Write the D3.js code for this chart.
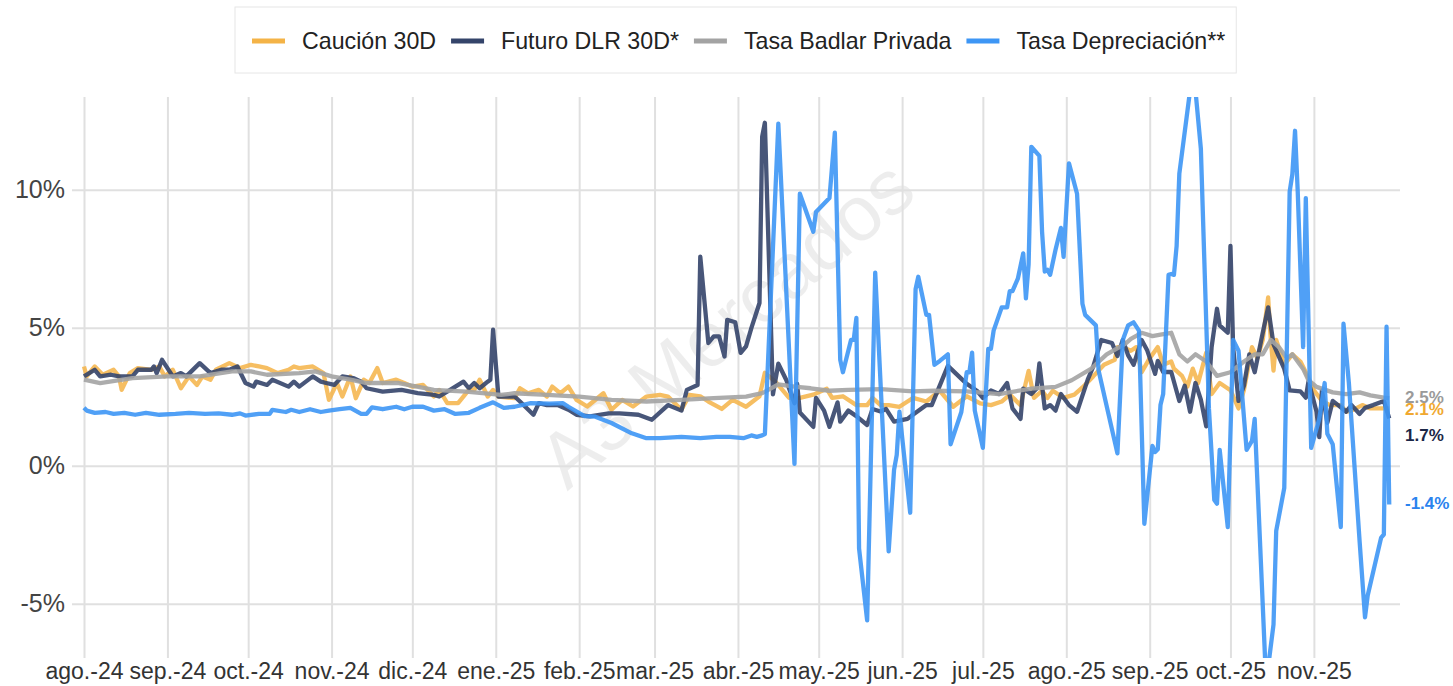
<!DOCTYPE html>
<html>
<head>
<meta charset="utf-8">
<script src="https://cdn.jsdelivr.net/npm/d3@7"></script>
<style>
  body { margin: 0; background: #fff; }
  text { font-family: "Liberation Sans", Arial, sans-serif; }
</style>
</head>
<body>
<script>
var w = 1453;
var h = 686;

// serie names / colors (legend order)
var seriesNames = ['Caución 30D', 'Futuro DLR 30D*', 'Tasa Badlar Privada', 'Tasa Depreciación**'];
var seriesColors = ['#f4b347', '#34446a', '#a3a3a3', '#3d96f5'];
var labelColors = ['#f0a830', '#1b2747', '#9a9a9a', '#2a83ee'];

var monthTicks = ['2024-08-01','2024-09-01','2024-10-01','2024-11-01','2024-12-01','2025-01-01','2025-02-01',
  '2025-03-01','2025-04-01','2025-05-01','2025-06-01','2025-07-01','2025-08-01','2025-09-01','2025-10-01','2025-11-01'];
var monthLabels = ['ago.-24','sep.-24','oct.-24','nov.-24','dic.-24','ene.-25','feb.-25','mar.-25',
  'abr.-25','may.-25','jun.-25','jul.-25','ago.-25','sep.-25','oct.-25','nov.-25'];
var yTicks = [-5, 0, 5, 10];

// Caución 30D
var caucion = [
["2024-08-01",3.6],["2024-08-02",3.24],["2024-08-05",3.6],["2024-08-08",3.3],["2024-08-12",3.48],["2024-08-14",3.24],
["2024-08-15",2.75],["2024-08-18",3.36],["2024-08-21",3.54],["2024-08-26",3.48],["2024-08-29",3.6],["2024-08-31",3.24],
["2024-09-03",3.48],["2024-09-06",2.81],["2024-09-09",3.24],["2024-09-12",2.93],["2024-09-14",3.24],["2024-09-17",3.12],
["2024-09-19",3.48],["2024-09-24",3.72],["2024-09-28",3.54],["2024-10-02",3.66],["2024-10-05",3.6],["2024-10-08",3.54],
["2024-10-12",3.36],["2024-10-16",3.48],["2024-10-18",3.6],["2024-10-20",3.54],["2024-10-25",3.6],["2024-10-29",3.36],
["2024-10-31",2.39],["2024-11-03",3.0],["2024-11-05",2.51],["2024-11-08",3.24],["2024-11-10",2.45],["2024-11-13",3.12],
["2024-11-15",3.0],["2024-11-18",3.54],["2024-11-20",3.0],["2024-11-25",3.12],["2024-11-28",3.0],["2024-12-01",2.87],
["2024-12-05",2.93],["2024-12-09",2.51],["2024-12-11",2.75],["2024-12-14",2.27],["2024-12-18",2.27],["2024-12-22",2.75],
["2024-12-24",2.75],["2024-12-26",3.12],["2024-12-29",2.51],["2024-12-31",2.75],["2025-01-02",2.51],["2025-01-08",2.45],
["2025-01-10",2.81],["2025-01-13",2.63],["2025-01-17",2.75],["2025-01-20",2.51],["2025-01-22",2.87],["2025-01-25",2.63],
["2025-01-28",2.87],["2025-01-31",2.39],["2025-02-04",2.15],["2025-02-10",2.63],["2025-02-13",2.03],["2025-02-17",2.39],
["2025-02-21",2.15],["2025-02-26",2.51],["2025-03-03",2.57],["2025-03-06",2.51],["2025-03-11",2.03],["2025-03-14",2.57],
["2025-03-18",2.52],["2025-03-21",2.33],["2025-03-26",2.06],["2025-03-30",2.39],["2025-04-04",2.14],["2025-04-09",2.52],
["2025-04-11",3.37],["2025-04-15",3.04],["2025-04-20",2.46],["2025-04-24",2.46],["2025-04-29",2.58],["2025-05-04",2.79],
["2025-05-06",2.46],["2025-05-10",2.52],["2025-05-15",2.2],["2025-05-19",2.2],["2025-05-21",2.46],["2025-05-24",2.2],
["2025-05-27",2.2],["2025-05-31",2.14],["2025-06-05",2.46],["2025-06-10",2.33],["2025-06-15",2.72],["2025-06-20",2.14],
["2025-06-25",2.52],["2025-06-30",2.26],["2025-07-04",2.2],["2025-07-08",2.33],["2025-07-11",2.58],["2025-07-15",2.2],
["2025-07-18",3.44],["2025-07-20",2.46],["2025-07-23",2.72],["2025-07-25",2.46],["2025-07-27",2.72],["2025-07-31",2.46],
["2025-08-04",2.58],["2025-08-07",2.84],["2025-08-11",3.24],["2025-08-15",3.66],["2025-08-19",3.84],["2025-08-20",4.3],
["2025-08-22",4.3],["2025-08-25",4.17],["2025-08-27",4.3],["2025-08-29",3.39],["2025-09-01",3.9],["2025-09-04",4.3],
["2025-09-06",3.66],["2025-09-09",3.78],["2025-09-10",3.52],["2025-09-13",3.26],["2025-09-15",2.87],["2025-09-17",3.52],
["2025-09-19",3.0],["2025-09-22",4.1],["2025-09-24",2.6],["2025-09-27",3.0],["2025-10-01",2.74],["2025-10-04",2.08],
["2025-10-06",2.74],["2025-10-09",4.3],["2025-10-11",3.9],["2025-10-13",4.56],["2025-10-15",6.1],["2025-10-16",4.56],
["2025-10-17",3.45],["2025-10-18",4.56],["2025-10-21",3.66],["2025-10-24",4.04],["2025-10-27",3.78],["2025-10-29",3.39],
["2025-11-01",2.74],["2025-11-04",2.35],["2025-11-07",2.2],["2025-11-11",2.2],["2025-11-13",1.96],["2025-11-15",2.0],
["2025-11-19",2.2],["2025-11-22",2.08],["2025-11-27",2.08],["2025-11-29",2.08]
];

// Futuro DLR 30D*
var futuro = [
["2024-08-01",3.24],["2024-08-05",3.48],["2024-08-07",3.24],["2024-08-11",3.3],["2024-08-14",3.24],["2024-08-19",3.24],
["2024-08-21",3.48],["2024-08-26",3.48],["2024-08-27",3.6],["2024-08-28",3.36],["2024-08-30",3.84],["2024-09-03",3.24],
["2024-09-06",3.36],["2024-09-08",3.24],["2024-09-13",3.72],["2024-09-17",3.36],["2024-09-21",3.48],["2024-09-24",3.48],
["2024-09-27",3.6],["2024-09-30",3.0],["2024-10-03",2.87],["2024-10-04",3.05],["2024-10-08",2.93],["2024-10-10",3.12],
["2024-10-16",2.87],["2024-10-18",3.05],["2024-10-20",2.87],["2024-10-25",3.24],["2024-10-28",3.05],["2024-10-30",3.0],
["2024-11-02",2.93],["2024-11-05",3.24],["2024-11-09",3.18],["2024-11-12",3.05],["2024-11-14",2.81],["2024-11-20",2.69],
["2024-11-27",2.75],["2024-12-03",2.63],["2024-12-09",2.57],["2024-12-11",2.51],["2024-12-17",2.87],["2024-12-20",3.05],
["2024-12-22",2.81],["2024-12-24",3.0],["2024-12-26",2.81],["2024-12-29",3.05],["2024-12-30",3.12],["2024-12-31",4.93],
["2025-01-02",2.51],["2025-01-08",2.51],["2025-01-10",2.33],["2025-01-15",1.85],["2025-01-17",2.27],["2025-01-20",2.2],
["2025-01-24",2.2],["2025-01-28",2.03],["2025-01-31",1.85],["2025-02-05",1.79],["2025-02-12",1.9],["2025-02-16",1.9],
["2025-02-23",1.85],["2025-02-28",1.67],["2025-03-06",2.2],["2025-03-11",2.0],["2025-03-13",2.75],["2025-03-17",2.93],
["2025-03-18",7.58],["2025-03-21",4.45],["2025-03-23",4.69],["2025-03-25",4.69],["2025-03-27",3.96],["2025-03-28",5.29],
["2025-03-31",5.2],["2025-04-02",4.09],["2025-04-04",4.33],["2025-04-06",5.0],["2025-04-09",5.9],["2025-04-10",11.93],
["2025-04-11",12.43],["2025-04-14",2.59],["2025-04-16",3.7],["2025-04-19",3.1],["2025-04-20",2.8],["2025-04-22",2.27],
["2025-04-23",2.97],["2025-04-24",1.93],["2025-04-29",1.41],["2025-04-30",2.46],["2025-05-03",2.0],["2025-05-05",1.41],
["2025-05-08",2.3],["2025-05-09",1.6],["2025-05-12",2.0],["2025-05-15",1.8],["2025-05-19",1.48],["2025-05-21",2.06],
["2025-05-24",1.97],["2025-05-26",2.06],["2025-05-29",1.6],["2025-06-03",1.7],["2025-06-05",1.85],["2025-06-10",2.2],
["2025-06-12",2.2],["2025-06-18",3.62],["2025-06-25",2.97],["2025-06-29",2.7],["2025-07-01",2.46],["2025-07-04",2.73],
["2025-07-07",2.6],["2025-07-10",3.0],["2025-07-12",2.08],["2025-07-15",1.7],["2025-07-16",2.8],["2025-07-19",2.6],
["2025-07-21",2.8],["2025-07-22",3.71],["2025-07-24",2.08],["2025-07-26",2.2],["2025-07-28",2.0],["2025-07-30",2.6],
["2025-08-02",2.2],["2025-08-05",1.96],["2025-08-09",3.13],["2025-08-11",3.59],["2025-08-14",4.56],["2025-08-18",4.45],
["2025-08-20",3.98],["2025-08-22",4.56],["2025-08-24",4.0],["2025-08-26",3.66],["2025-08-29",4.56],["2025-08-31",4.2],
["2025-09-03",3.33],["2025-09-04",3.8],["2025-09-06",3.4],["2025-09-09",3.4],["2025-09-12",2.35],["2025-09-14",2.9],
["2025-09-16",1.96],["2025-09-18",3.0],["2025-09-20",2.4],["2025-09-22",1.43],["2025-09-24",4.3],["2025-09-26",5.69],
["2025-09-27",5.09],["2025-09-30",4.82],["2025-10-01",7.97],["2025-10-02",4.3],["2025-10-04",2.35],["2025-10-06",2.9],
["2025-10-08",4.04],["2025-10-10",3.39],["2025-10-13",4.82],["2025-10-15",5.74],["2025-10-17",4.4],["2025-10-21",3.51],
["2025-10-23",2.73],["2025-10-27",2.7],["2025-10-29",2.47],["2025-10-30",3.06],["2025-11-02",1.96],["2025-11-03",1.04],
["2025-11-04",2.73],["2025-11-06",1.56],["2025-11-08",2.35],["2025-11-10",2.2],["2025-11-13",1.96],["2025-11-15",2.2],
["2025-11-18",1.88],["2025-11-20",2.1],["2025-11-23",2.2],["2025-11-27",2.35],["2025-11-29",1.72]
];

// Tasa Badlar Privada
var badlar = [
["2024-08-01",3.12],["2024-08-07",3.0],["2024-08-19",3.18],["2024-09-01",3.24],["2024-09-13",3.24],["2024-09-25",3.42],
["2024-10-02",3.42],["2024-10-08",3.3],["2024-10-20",3.36],["2024-10-26",3.42],["2024-11-01",3.24],["2024-11-08",3.12],
["2024-11-14",3.0],["2024-11-26",3.0],["2024-12-09",2.75],["2024-12-21",2.69],["2025-01-03",2.57],["2025-01-08",2.63],
["2025-01-20",2.57],["2025-02-01",2.51],["2025-02-13",2.39],["2025-02-26",2.33],["2025-03-11",2.39],["2025-03-23",2.45],
["2025-04-04",2.51],["2025-04-10",2.63],["2025-04-16",2.95],["2025-04-22",2.87],["2025-04-28",2.81],["2025-05-05",2.72],
["2025-05-12",2.75],["2025-05-24",2.78],["2025-06-05",2.7],["2025-06-13",2.72],["2025-06-25",2.7],["2025-07-07",2.6],
["2025-07-19",2.8],["2025-07-28",2.86],["2025-08-03",3.1],["2025-08-10",3.5],["2025-08-16",4.04],["2025-08-23",4.43],
["2025-08-25",4.6],["2025-08-29",4.82],["2025-09-02",4.7],["2025-09-05",4.75],["2025-09-09",4.82],["2025-09-12",4.04],
["2025-09-15",3.78],["2025-09-18",4.04],["2025-09-22",3.78],["2025-09-26",3.26],["2025-10-01",3.39],["2025-10-06",3.78],
["2025-10-10",4.04],["2025-10-13",4.04],["2025-10-16",4.56],["2025-10-19",4.3],["2025-10-22",3.9],["2025-10-24",4.04],
["2025-10-28",3.51],["2025-10-30",3.1],["2025-11-02",2.86],["2025-11-08",2.66],["2025-11-13",2.6],["2025-11-18",2.66],
["2025-11-22",2.55],["2025-11-27",2.47],["2025-11-29",2.45]
];

// Tasa Depreciación**
var depreciacion = [
["2024-08-01",2.1],["2024-08-02",2.0],["2024-08-05",1.92],["2024-08-09",1.95],["2024-08-12",1.88],["2024-08-16",1.92],
["2024-08-20",1.85],["2024-08-24",1.92],["2024-08-29",1.85],["2024-09-04",1.88],["2024-09-09",1.92],["2024-09-15",1.88],
["2024-09-20",1.9],["2024-09-25",1.85],["2024-09-28",1.9],["2024-09-30",1.82],["2024-10-05",1.88],["2024-10-09",1.88],
["2024-10-10",2.03],["2024-10-15",1.95],["2024-10-17",2.03],["2024-10-20",1.95],["2024-10-24",2.05],["2024-10-28",1.95],
["2024-10-31",2.0],["2024-11-04",2.05],["2024-11-08",2.1],["2024-11-12",1.88],["2024-11-14",1.88],["2024-11-16",2.12],
["2024-11-20",2.05],["2024-11-25",2.14],["2024-11-28",2.05],["2024-12-01",2.14],["2024-12-05",2.14],["2024-12-09",2.0],
["2024-12-13",2.05],["2024-12-17",1.88],["2024-12-22",1.92],["2024-12-26",2.1],["2024-12-31",2.3],["2025-01-02",2.2],
["2025-01-04",2.1],["2025-01-08",2.14],["2025-01-14",2.27],["2025-01-21",2.25],["2025-01-26",2.27],["2025-01-28",2.14],
["2025-02-03",1.8],["2025-02-07",1.78],["2025-02-13",1.55],["2025-02-20",1.2],["2025-02-26",1.0],["2025-03-03",1.0],
["2025-03-11",1.05],["2025-03-18",1.0],["2025-03-24",1.05],["2025-03-29",1.05],["2025-04-03",1.0],["2025-04-06",1.1],
["2025-04-08",1.05],["2025-04-10",1.1],["2025-04-11",1.15],["2025-04-16",12.4],["2025-04-22",0.07],["2025-04-24",9.86],
["2025-04-29",8.48],["2025-04-30",9.2],["2025-05-05",9.7],["2025-05-07",12.07],["2025-05-09",3.84],["2025-05-10",3.39],
["2025-05-13",4.56],["2025-05-14",4.56],["2025-05-15",5.36],["2025-05-16",-3.0],["2025-05-19",-5.6],["2025-05-22",7.0],
["2025-05-27",-3.1],["2025-05-29",-0.15],["2025-05-30",0.4],["2025-05-31",1.96],["2025-06-04",-1.7],["2025-06-06",6.4],
["2025-06-07",6.85],["2025-06-10",5.47],["2025-06-11",5.47],["2025-06-13",3.66],["2025-06-15",3.8],["2025-06-18",4.04],
["2025-06-19",0.78],["2025-06-23",1.95],["2025-06-25",3.39],["2025-06-26",3.39],["2025-06-27",4.1],["2025-06-28",2.0],
["2025-07-01",0.65],["2025-07-03",4.24],["2025-07-04",4.24],["2025-07-05",4.9],["2025-07-08",5.74],["2025-07-10",5.74],
["2025-07-11",6.33],["2025-07-12",6.33],["2025-07-14",6.78],["2025-07-16",7.7],["2025-07-17",6.07],["2025-07-18",7.3],
["2025-07-19",11.56],["2025-07-22",11.23],["2025-07-23",8.48],["2025-07-24",7.04],["2025-07-25",7.1],["2025-07-26",6.92],
["2025-07-28",7.83],["2025-07-30",8.62],["2025-07-31",7.57],["2025-08-02",10.96],["2025-08-05",9.86],["2025-08-07",5.87],
["2025-08-08",5.47],["2025-08-12",5.09],["2025-08-13",3.45],["2025-08-20",0.45],["2025-08-22",4.56],["2025-08-24",5.09],
["2025-08-26",5.2],["2025-08-28",4.9],["2025-08-30",-2.1],["2025-09-02",0.72],["2025-09-03",0.5],["2025-09-04",0.6],
["2025-09-05",2.2],["2025-09-06",2.6],["2025-09-08",6.92],["2025-09-09",6.95],["2025-09-10",6.92],["2025-09-11",7.97],
["2025-09-12",10.58],["2025-09-16",13.6],["2025-09-18",13.6],["2025-09-20",11.5],["2025-09-23",2.08],["2025-09-25",-1.24],
["2025-09-26",-1.37],["2025-09-27",0.58],["2025-09-30",-2.22],["2025-10-02",4.56],["2025-10-04",4.17],["2025-10-07",0.58],
["2025-10-09",0.9],["2025-10-10",1.7],["2025-10-14",-7.3],["2025-10-15",-7.3],["2025-10-17",-5.75],["2025-10-18",-2.36],
["2025-10-21",-0.8],["2025-10-23",9.93],["2025-10-24",10.57],["2025-10-25",12.14],["2025-10-26",9.93],["2025-10-28",4.3],
["2025-10-29",9.7],["2025-10-31",0.65],["2025-11-03",1.7],["2025-11-05",3.0],["2025-11-06",1.16],["2025-11-08",0.78],
["2025-11-11",-2.22],["2025-11-12",5.15],["2025-11-14",3.0],["2025-11-18",-2.75],["2025-11-20",-5.49],["2025-11-21",-4.7],
["2025-11-26",-2.6],["2025-11-27",-2.49],["2025-11-28",5.04],["2025-11-29",-1.4]
];

var parse = d3.timeParse('%Y-%m-%d');
var allSeries = [caucion, futuro, badlar, depreciacion].map(function(s){
  return s.map(function(d){ return {date: parse(d[0]), value: d[1]}; });
});

// plot box (window.top is read only, so no "top" here)
var plotL = 84, plotR = 1400, plotT = 97, plotB = 658;

var x = d3.scaleTime()
  .domain([parse('2024-08-01'), parse('2025-12-03')])
  .range([plotL, plotR]);
var y = d3.scaleLinear()
  .domain([-7, 13.4])
  .range([659, 96]);

var svg = d3.select('body').append('svg')
  .attr('width', w).attr('height', h);

svg.append('defs').append('clipPath').attr('id', 'plot')
  .append('rect').attr('x', plotL - 4).attr('y', plotT).attr('width', plotR - plotL + 8).attr('height', plotB - plotT);

// watermark
svg.append('text')
  .attr('transform', 'translate(730,328) rotate(-40)')
  .attr('text-anchor', 'middle')
  .attr('dominant-baseline', 'middle')
  .attr('font-size', 78)
  .attr('fill', '#000')
  .attr('fill-opacity', 0.07)
  .text('A3 Mercados');

// y grid + labels
var yAxis = svg.append('g')
  .attr('transform', 'translate(72,0)')
  .call(d3.axisLeft(y).tickValues(yTicks).tickSize(-(plotR - 72)).tickPadding(7)
    .tickFormat(function(d){ return d + '%'; }));
yAxis.select('.domain').remove();
yAxis.selectAll('line').attr('stroke', '#e0e0e0').attr('stroke-width', 2);
yAxis.selectAll('text').attr('font-size', 25).attr('fill', '#444')
  .style('font-family', '"Liberation Sans", Arial, sans-serif');

// x grid + labels
var xAxis = svg.append('g')
  .attr('transform', 'translate(0,' + plotB + ')')
  .call(d3.axisBottom(x).tickValues(monthTicks.map(parse)).tickSize(-(plotB - plotT)).tickPadding(5)
    .tickFormat(function(d, i){ return monthLabels[i]; }));
xAxis.select('.domain').remove();
xAxis.selectAll('line').attr('stroke', '#e0e0e0').attr('stroke-width', 2);
xAxis.selectAll('text').attr('font-size', 23).attr('fill', '#333')
  .style('font-family', '"Liberation Sans", Arial, sans-serif');

// lines
var line = d3.line()
  .x(function(d){ return x(d.date); })
  .y(function(d){ return y(d.value); });

svg.append('g').attr('clip-path', 'url(#plot)')
  .selectAll('path').data(allSeries).enter()
  .append('path')
  .attr('d', line)
  .attr('fill', 'none')
  .attr('stroke', function(d, i){ return seriesColors[i]; })
  .attr('stroke-opacity', function(d, i){ return i == 0 ? 0.85 : 0.9; })
  .attr('stroke-width', 4.3)
  .attr('stroke-linejoin', 'round');

// last value labels (nudged like the original to dodge each other)
var labelNudge = [1, 17, -1, -1];
svg.selectAll('.endlabel').data(allSeries).enter()
  .append('text')
  .attr('class', 'endlabel')
  .attr('x', 1405)
  .attr('y', function(d, i){ return y(d[d.length - 1].value) + labelNudge[i]; })
  .attr('dy', '0.35em')
  .attr('font-size', 17)
  .attr('font-weight', 'bold')
  .attr('fill', function(d, i){ return labelColors[i]; })
  .text(function(d){ return d[d.length - 1].value.toFixed(1) + '%'; });

// legend
var legend = svg.append('g');
var legBox = legend.append('rect')
  .attr('y', 7).attr('height', 66)
  .attr('fill', '#fff').attr('stroke', '#e6e6e6').attr('stroke-width', 1);
var lx = 252;
seriesNames.forEach(function(name, i){
  legend.append('line')
    .attr('x1', lx).attr('x2', lx + 33).attr('y1', 41).attr('y2', 41)
    .attr('stroke', seriesColors[i]).attr('stroke-width', 5);
  var t = legend.append('text')
    .attr('x', lx + 50).attr('y', 41).attr('dy', '0.35em')
    .attr('font-size', 23.2).attr('fill', '#222')
    .text(name);
  lx = lx + 50 + t.node().getComputedTextLength() + 15;
});
legBox.attr('x', 235).attr('width', lx - 4 - 235);
</script>
</body>
</html>
